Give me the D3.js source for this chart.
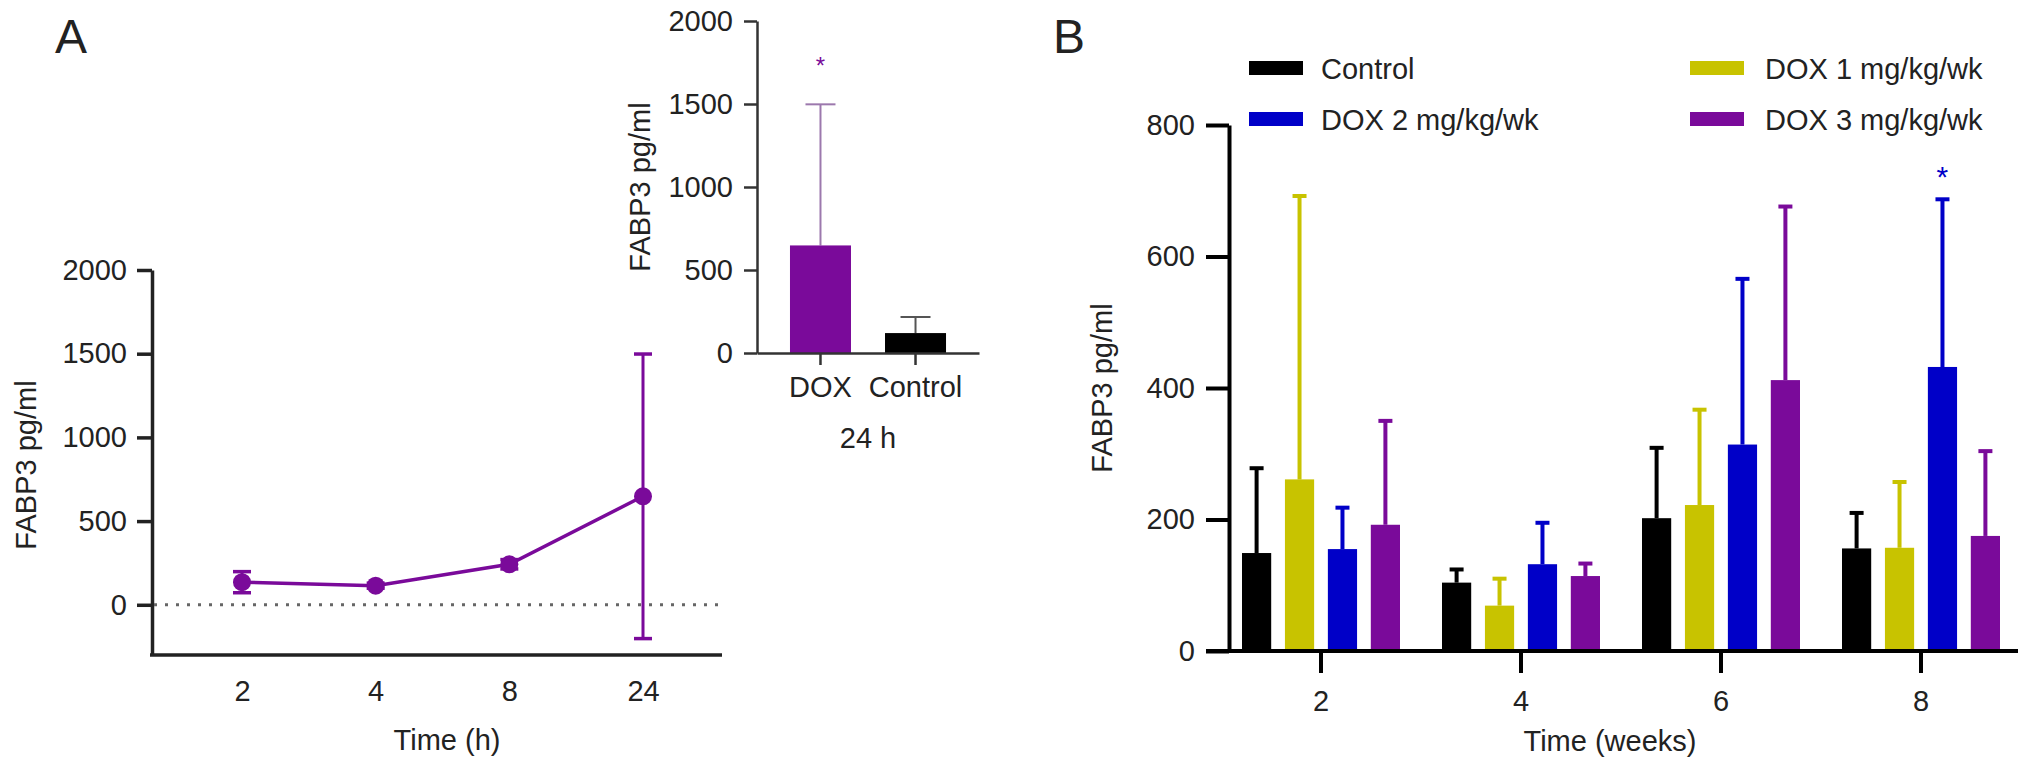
<!DOCTYPE html>
<html>
<head>
<meta charset="utf-8">
<script src="https://cdn.jsdelivr.net/npm/d3@7"></script>
<style>
  body { margin: 0; background: #fff; }
  text { font-family: "Liberation Sans", Arial, sans-serif; fill: #222; }
</style>
</head>
<body>
<div id="chart"></div>
<script>
// panel A - time course (h)
var hours = ['2', '4', '8', '24'];
var hourMean = [135, 114, 242, 648];
var hourSD = [63, 15, 28, 850];
var yTicksA = [0, 500, 1000, 1500, 2000];

// inset - 24 h
var insetGroups = ['DOX', 'Control'];
var insetMean = [648, 120];
var insetSD = [850, 97];

// panel B - weeks
var weeks = ['2', '4', '6', '8'];
var groupsB = ['Control', 'DOX 1 mg/kg/wk', 'DOX 2 mg/kg/wk', 'DOX 3 mg/kg/wk'];
var controlMean = [149, 104, 202, 156];
var controlSD = [129, 20, 107, 54];
var dox1Mean = [261, 69, 222, 157];
var dox1SD = [431, 41, 145, 100];
var dox2Mean = [155, 132, 314, 432];
var dox2SD = [63, 63, 252, 255];
var dox3Mean = [192, 114, 412, 175];
var dox3SD = [158, 19, 264, 129];
var yTicksB = [0, 200, 400, 600, 800];

var purple = '#7a0a9a', yellow = '#c8c300', blue = '#0000c8';
var colorsB = ['#000', yellow, blue, purple];
var fontSize = 29;
var plain = d3.format('d');

var svg = d3.select('#chart').append('svg')
  .attr('width', 2032).attr('height', 770);

function styleAxis(g, color, width) {
  g.attr('font-size', fontSize).attr('font-family', '"Liberation Sans", Arial, sans-serif');
  g.selectAll('path, line').attr('stroke', color).attr('stroke-width', width);
  g.selectAll('text').attr('fill', '#222');
}

// ---------- panel A ----------
var xA = d3.scalePoint().domain(hours).range([242, 643]);
var yA = d3.scaleLinear().domain([-300, 2000]).range([655, 270]);

var gA = svg.append('g');

gA.append('g')
  .attr('transform', 'translate(152,0)')
  .call(d3.axisLeft(yA).tickValues(yTicksA).tickFormat(plain)
    .tickSize(15).tickPadding(10).tickSizeOuter(0))
  .call(styleAxis, '#222', 3.5);

var xAxA = gA.append('g')
  .attr('transform', 'translate(0,655)')
  .call(d3.axisBottom(xA).tickSize(0).tickPadding(25))
  .call(styleAxis, '#222', 3.5);
xAxA.select('.domain').remove();
gA.append('line')
  .attr('x1', 150).attr('x2', 722).attr('y1', 655).attr('y2', 655)
  .attr('stroke', '#222').attr('stroke-width', 3.5);

// dotted zero line
gA.append('line')
  .attr('x1', 154).attr('x2', 722).attr('y1', yA(0)).attr('y2', yA(0))
  .attr('stroke', '#666').attr('stroke-width', 3)
  .attr('stroke-dasharray', '3 8');

var ptsA = hours.map(function(h, i) { return {h: h, m: hourMean[i], sd: hourSD[i]}; });

// error bars
var errA = gA.selectAll('.errA').data(ptsA).enter().append('g');
errA.append('line')
  .attr('x1', d => xA(d.h)).attr('x2', d => xA(d.h))
  .attr('y1', d => yA(d.m - d.sd)).attr('y2', d => yA(d.m + d.sd))
  .attr('stroke', purple).attr('stroke-width', 3);
[-1, 1].forEach(function(s) {
  errA.append('line')
    .attr('x1', d => xA(d.h) - 9).attr('x2', d => xA(d.h) + 9)
    .attr('y1', d => yA(d.m + s * d.sd)).attr('y2', d => yA(d.m + s * d.sd))
    .attr('stroke', purple).attr('stroke-width', 3.5);
});

gA.append('path')
  .datum(ptsA)
  .attr('fill', 'none').attr('stroke', purple).attr('stroke-width', 3.5)
  .attr('d', d3.line().x(d => xA(d.h)).y(d => yA(d.m)));

gA.selectAll('.dotA').data(ptsA).enter().append('circle')
  .attr('cx', d => xA(d.h)).attr('cy', d => yA(d.m)).attr('r', 9)
  .attr('fill', purple);

gA.append('text').attr('x', 447).attr('y', 750).attr('text-anchor', 'middle')
  .attr('font-size', fontSize).text('Time (h)');
gA.append('text').attr('transform', 'translate(36,465) rotate(-90)')
  .attr('text-anchor', 'middle').attr('font-size', fontSize).text('FABP3 pg/ml');

svg.append('text').attr('x', 55).attr('y', 53).attr('font-size', 48).text('A');

// ---------- inset ----------
var xI = d3.scaleBand().domain(insetGroups).range([757, 979])
  .paddingInner(0.358).paddingOuter(0.347);
var yI = d3.scaleLinear().domain([0, 2000]).range([353, 21]);
var gI = svg.append('g');

gI.append('g')
  .attr('transform', 'translate(757,0)')
  .call(d3.axisLeft(yI).tickValues(yTicksA).tickFormat(plain)
    .tickSize(13).tickPadding(11).tickSizeOuter(0))
  .call(styleAxis, '#333', 2.5);

var ptsI = insetGroups.map(function(g, i) {
  return {g: g, m: insetMean[i], sd: insetSD[i], c: i === 0 ? purple : '#000', e: i === 0 ? '#9c78ad' : '#555'};
});

var errI = gI.selectAll('.errI').data(ptsI).enter().append('g');
errI.append('line')
  .attr('x1', d => xI(d.g) + xI.bandwidth() / 2).attr('x2', d => xI(d.g) + xI.bandwidth() / 2)
  .attr('y1', d => yI(d.m)).attr('y2', d => yI(d.m + d.sd))
  .attr('stroke', d => d.e).attr('stroke-width', 2);
errI.append('line')
  .attr('x1', d => xI(d.g) + xI.bandwidth() / 2 - 15).attr('x2', d => xI(d.g) + xI.bandwidth() / 2 + 15)
  .attr('y1', d => yI(d.m + d.sd)).attr('y2', d => yI(d.m + d.sd))
  .attr('stroke', d => d.e).attr('stroke-width', 2);

gI.selectAll('.barI').data(ptsI).enter().append('rect')
  .attr('x', d => xI(d.g)).attr('width', xI.bandwidth())
  .attr('y', d => yI(d.m)).attr('height', d => yI(0) - yI(d.m))
  .attr('fill', d => d.c);

gI.append('g')
  .attr('transform', 'translate(0,353)')
  .call(d3.axisBottom(xI).tickSize(12).tickPadding(11).tickSizeOuter(0))
  .call(styleAxis, '#333', 2.5);

gI.append('text').attr('x', 868).attr('y', 448).attr('text-anchor', 'middle')
  .attr('font-size', fontSize).text('24 h');
gI.append('text').attr('transform', 'translate(650,187) rotate(-90)')
  .attr('text-anchor', 'middle').attr('font-size', fontSize).text('FABP3 pg/ml');
gI.append('text').attr('x', xI('DOX') + xI.bandwidth() / 2).attr('y', 74)
  .attr('text-anchor', 'middle').attr('font-size', 24).style('fill', purple).text('*');

// ---------- panel B ----------
var xB = d3.scaleBand().domain(weeks).range([1221, 2021]);
var xInner = d3.scaleBand().domain(groupsB).range([-79, 79]).paddingInner(0.32);
var yB = d3.scaleLinear().domain([0, 800]).range([651, 125]);
var gB = svg.append('g');

var meansB = [controlMean, dox1Mean, dox2Mean, dox3Mean];
var sdsB = [controlSD, dox1SD, dox2SD, dox3SD];
var rowsB = [];
weeks.forEach(function(w, i) {
  groupsB.forEach(function(g, j) {
    rowsB.push({w: w, g: g, m: meansB[j][i], sd: sdsB[j][i], c: colorsB[j]});
  });
});

function cxB(d) { return xB(d.w) + xB.bandwidth() / 2 + xInner(d.g) + xInner.bandwidth() / 2; }

var errB = gB.selectAll('.errB').data(rowsB).enter().append('g');
errB.append('line')
  .attr('x1', cxB).attr('x2', cxB)
  .attr('y1', d => yB(d.m)).attr('y2', d => yB(d.m + d.sd))
  .attr('stroke', d => d.c).attr('stroke-width', 4);
errB.append('line')
  .attr('x1', d => cxB(d) - 7).attr('x2', d => cxB(d) + 7)
  .attr('y1', d => yB(d.m + d.sd)).attr('y2', d => yB(d.m + d.sd))
  .attr('stroke', d => d.c).attr('stroke-width', 4);

gB.selectAll('.barB').data(rowsB).enter().append('rect')
  .attr('x', d => xB(d.w) + xB.bandwidth() / 2 + xInner(d.g))
  .attr('width', xInner.bandwidth())
  .attr('y', d => yB(d.m)).attr('height', d => yB(0) - yB(d.m))
  .attr('fill', d => d.c);

gB.append('g')
  .attr('transform', 'translate(1229,0)')
  .call(d3.axisLeft(yB).tickValues(yTicksB).tickSize(23).tickPadding(11).tickSizeOuter(0))
  .call(styleAxis, '#000', 4);

var xAxB = gB.append('g')
  .attr('transform', 'translate(0,651)')
  .call(d3.axisBottom(xB).tickSize(22).tickPadding(17))
  .call(styleAxis, '#000', 4);
xAxB.select('.domain').remove();
gB.append('line')
  .attr('x1', 1206).attr('x2', 2018).attr('y1', 651).attr('y2', 651)
  .attr('stroke', '#000').attr('stroke-width', 4);

gB.append('text').attr('x', 1610).attr('y', 751).attr('text-anchor', 'middle')
  .attr('font-size', fontSize).text('Time (weeks)');
gB.append('text').attr('transform', 'translate(1112,388) rotate(-90)')
  .attr('text-anchor', 'middle').attr('font-size', fontSize).text('FABP3 pg/ml');

// significance mark on DOX 2 at week 8
var starRow = rowsB.filter(d => d.w === '8' && d.g === 'DOX 2 mg/kg/wk')[0];
gB.append('text').attr('x', cxB(starRow)).attr('y', 187)
  .attr('text-anchor', 'middle').attr('font-size', 30).style('fill', blue).text('*');

// legend (two columns)
var legendPos = [[1249, 68], [1690, 68], [1249, 119], [1690, 119]];
var legend = gB.selectAll('.leg').data(groupsB).enter().append('g')
  .attr('transform', (d, i) => 'translate(' + legendPos[i][0] + ',' + legendPos[i][1] + ')');
legend.append('rect').attr('x', 0).attr('y', -7).attr('width', 54).attr('height', 14)
  .attr('fill', (d, i) => colorsB[i]);
legend.append('text').attr('x', (d, i) => i % 2 === 0 ? 72 : 75).attr('y', 10.5)
  .attr('font-size', fontSize).text(d => d);

svg.append('text').attr('x', 1053).attr('y', 53).attr('font-size', 48).text('B');
</script>
</body>
</html>
